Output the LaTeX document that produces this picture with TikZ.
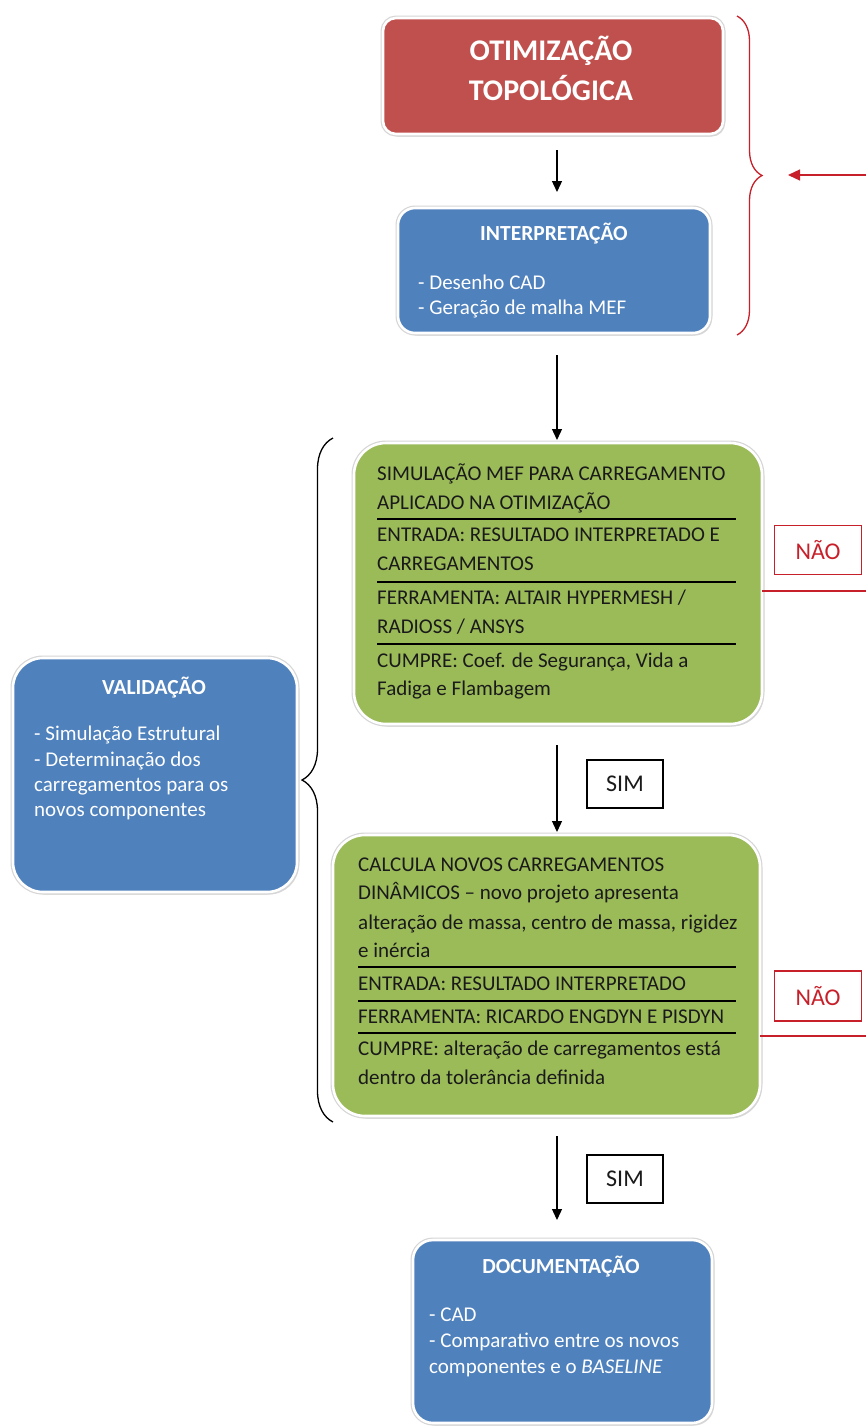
\documentclass[tikz,border=0pt]{standalone}
\usepackage{fontspec}
\setmainfont{Carlito}
\usetikzlibrary{arrows.meta,shadows,decorations.pathreplacing,calc}

\definecolor{boxred}{HTML}{C0504D}
\definecolor{boxblue}{HTML}{4F81BD}
\definecolor{boxgreen}{HTML}{9BBB59}
\definecolor{linered}{HTML}{C8202A}
\definecolor{ink}{HTML}{1A1A1A}

\begin{document}
\begin{tikzpicture}[x=1pt,y=-1pt,
  panel/.style={rounded corners=#1, outer sep=0pt, inner sep=0pt, anchor=north west,
    drop shadow={shadow xshift=2pt, shadow yshift=-2.5pt, opacity=.3},
    preaction={draw=black!16, line width=5pt},
    draw=white, line width=2.6pt},
  bigtitle/.style={anchor=base, inner sep=0pt, text=white, font=\bfseries\fontsize{30}{30}\selectfont},
  btitle/.style={anchor=base, inner sep=0pt, text=white, font=\bfseries\fontsize{21.5}{21.5}\selectfont},
  btext/.style={anchor=base west, inner sep=0pt, text=white, font=\fontsize{21}{21}\selectfont},
  gtext/.style={anchor=base west, inner sep=0pt, text=ink, font=\fontsize{21}{21}\selectfont},
  rule/.style={line width=1.4pt, black},
  arr/.style={-{Triangle[width=10pt,length=11pt]}, line width=1.3pt, black},
  redarr/.style={-{Triangle[width=11pt,length=12pt]}, line width=1.3pt, linered},
  tag/.style={draw=#1, line width=1.4pt, minimum width=76, minimum height=48, inner sep=0pt,
    font=\fontsize{24}{24}\selectfont},
  redline/.style={line width=1.4pt, linered},
  bracestroke/.style={decorate, line width=1.3pt}
]
\useasboundingbox (0,0) rectangle (866,1428);
\fill[white] (0,0) rectangle (866,1428);

% ---------- panels ----------
\node[panel=13pt, fill=boxred, minimum width=340, minimum height=116] (topo) at (383,18) {};
\node[panel=17pt, fill=boxblue, minimum width=312, minimum height=125] (interp) at (398,208) {};
\node[panel=32pt, fill=boxgreen, minimum width=408, minimum height=281] (mef) at (354,443) {};
\node[panel=30pt, fill=boxblue, minimum width=284, minimum height=234] (valid) at (13,658) {};
\node[panel=32pt, fill=boxgreen, minimum width=427, minimum height=281] (calc) at (333,835) {};
\node[panel=20pt, fill=boxblue, minimum width=299, minimum height=183] (doc) at (413,1240) {};

% ---------- top title ----------
\node[bigtitle] (topo1) at (551,60) {OTIMIZAÇÃO};
\node[bigtitle] (topo2) at (551,100) {TOPOLÓGICA};

% ---------- interpretation ----------
\node[btitle] (interpT) at (554,240) {INTERPRETAÇÃO};
\node[btext] (interp1) at (418,289) {- Desenho CAD};
\node[btext] (interp2) at (418,314) {- Geração de malha MEF};

% ---------- FEM simulation ----------
\node[gtext] (mef1) at (377,480) {SIMULAÇÃO MEF PARA CARREGAMENTO};
\node[gtext] (mef2) at (377,509) {APLICADO NA OTIMIZAÇÃO};
\node[gtext] (mef3) at (377,541) {ENTRADA: RESULTADO INTERPRETADO E};
\node[gtext] (mef4) at (377,570) {CARREGAMENTOS};
\node[gtext] (mef5) at (377,604) {FERRAMENTA: ALTAIR HYPERMESH /};
\node[gtext] (mef6) at (377,633) {RADIOSS / ANSYS};
\node[gtext] (mef7) at (377,667) {CUMPRE: Coef. de Segurança, Vida a};
\node[gtext] (mef8) at (377,695) {Fadiga e Flambagem};
\draw[rule] (377,519) -- (736,519);
\draw[rule] (377,582) -- (736,582);
\draw[rule] (377,644) -- (736,644);

% ---------- dynamic loads ----------
\node[gtext] (calc1) at (358,871) {CALCULA NOVOS CARREGAMENTOS};
\node[gtext] (calc2) at (358,899) {DINÂMICOS – novo projeto apresenta};
\node[gtext] (calc3) at (358,929) {alteração de massa, centro de massa, rigidez};
\node[gtext] (calc4) at (358,957) {e inércia};
\node[gtext] (calc5) at (358,990) {ENTRADA: RESULTADO INTERPRETADO};
\node[gtext] (calc6) at (358,1023) {FERRAMENTA: RICARDO ENGDYN E PISDYN};
\node[gtext] (calc7) at (358,1055) {CUMPRE: alteração de carregamentos está};
\node[gtext] (calc8) at (358,1084) {dentro da tolerância definida};
\draw[rule] (358,967) -- (736,967);
\draw[rule] (358,1001) -- (736,1001);
\draw[rule] (358,1033) -- (736,1033);

% ---------- validation ----------
\node[btitle] (validT) at (154,694) {VALIDAÇÃO};
\node[btext] (valid1) at (34,740) {- Simulação Estrutural};
\node[btext] (valid2) at (34,766) {- Determinação dos};
\node[btext] (valid3) at (34,791) {carregamentos para os};
\node[btext] (valid4) at (34,816) {novos componentes};

% ---------- documentation ----------
\node[btitle] (docT) at (561,1273) {DOCUMENTAÇÃO};
\node[btext] (doc1) at (429,1321) {- CAD};
\node[btext] (doc2) at (429,1347) {- Comparativo entre os novos};
\node[btext] (doc3) at (429,1373) {componentes e o \textit{BASELINE}};

% ---------- main flow ----------
\coordinate (axis) at (557,0);
\draw[arr, shorten <=16pt, shorten >=16pt] (topo.south -| axis) -- (interp.north -| axis);
\draw[arr, shorten <=22pt, shorten >=3pt] (interp.south -| axis) -- (mef.north -| axis);
\draw[arr, shorten <=21pt, shorten >=3pt] (mef.south -| axis) -- (calc.north -| axis);
\draw[arr, shorten <=20pt, shorten >=20pt] (calc.south -| axis) -- (doc.north -| axis);

\node[tag=black, text=ink] (sim1) at (625,784) {SIM};
\node[tag=black, text=ink] (sim2) at (625,1179) {SIM};

% ---------- rejection branches ----------
\node[tag=linered, text=linered, minimum width=87, minimum height=49] (nao1) at (818,550) {NÃO};
\node[tag=linered, text=linered, minimum width=87, minimum height=50] (nao2) at (818,996) {NÃO};
\coordinate (edge1) at (866,591);
\coordinate (edge2) at (866,1036);
\draw[redline] (edge1 -| mef.east) -- (edge1);
\draw[redline] (edge2 -| calc.east) -- (edge2);

% ---------- braces ----------
\coordinate (rbTop) at (737,16);
\coordinate (rbBot) at (737,335);
\draw[bracestroke, linered, decoration={brace, amplitude=25pt}] (rbTop) -- (rbBot);
\coordinate (redTail) at (866,175);
\coordinate (redTip) at (788,175);
\draw[redarr] (redTail) -- (redTip);

\coordinate (kbBot) at (333,1122);
\coordinate (kbTop) at (333,438);
\draw[bracestroke, black, decoration={brace, amplitude=31pt}] (kbBot) -- (kbTop);
\end{tikzpicture}
\end{document}
